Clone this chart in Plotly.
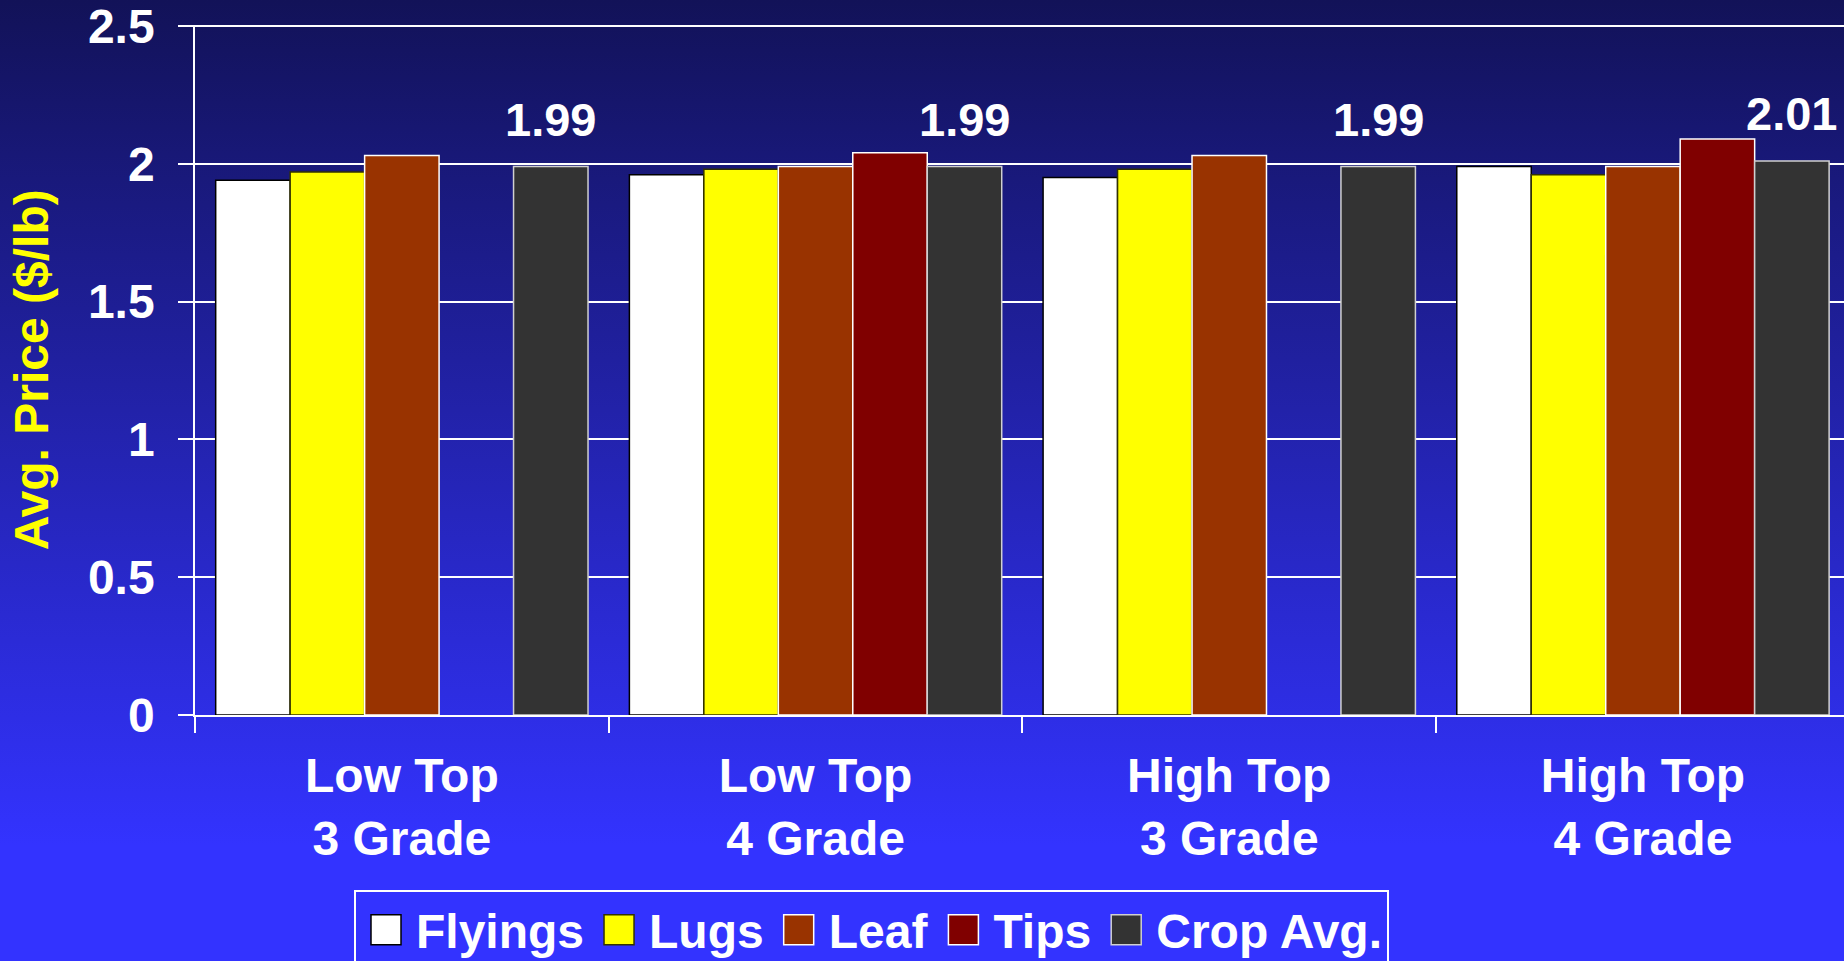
import base64
import plotly.graph_objects as go

# ---- data ----
categories = ["Low Top<br>3 Grade", "Low Top<br>4 Grade", "High Top<br>3 Grade", "High Top<br>4 Grade"]
flyings = [1.94, 1.96, 1.95, 1.99]
lugs = [1.97, 1.98, 1.98, 1.96]
leaf = [2.03, 1.99, 2.03, 1.99]
tips = [None, 2.04, None, 2.09]
crop_avg = [1.99, 1.99, 1.99, 2.01]
series_names = ["Flyings", "Lugs", "Leaf", "Tips", "Crop Avg."]
y_tickvals = [0, 0.5, 1, 1.5, 2, 2.5]
y_ticktext = ["0", "0.5", "1", "1.5", "2", "2.5"]

# ---- styles ----
W, H = 1844, 961
FONT = "Arial, 'Liberation Sans', sans-serif"
FS = 48
FS_LABEL = 47
fills = ["#FFFFFF", "#FFFF00", "#993300", "#800000", "#333333"]
lines = ["#000000", "#333300", "#FFFFFF", "#FFFFFF", "#D0D0D0"]
values = [flyings, lugs, leaf, tips, crop_avg]
BARGAP = 0.1
Y_MAX = 2.505

fig = go.Figure()
for name, vals, fc, lc in zip(series_names, values, fills, lines):
    fig.add_trace(go.Bar(
        name=name, x=categories, y=vals,
        marker=dict(color=fc, line=dict(color=lc, width=1.5)),
    ))

# value labels over the Crop Avg. bars
n = len(series_names)
bar_w = (1 - BARGAP) / n
offset = (n - 1 - (n - 1) / 2) * bar_w
for i, v in enumerate(crop_avg):
    fig.add_annotation(
        x=i + offset, y=v, xref="x", yref="y",
        text=f"{v:.2f}", showarrow=False, yanchor="bottom", yshift=19,
        font=dict(family=FONT, size=FS_LABEL, color="white", weight="bold"),
    )

# gradient background
svg = (
    '<svg xmlns="http://www.w3.org/2000/svg" width="100" height="100" viewBox="0 0 100 100" '
    'preserveAspectRatio="none"><defs><linearGradient id="g" x1="0" y1="0" x2="0" y2="1">'
    '<stop offset="0" stop-color="#121258"/><stop offset="0.88" stop-color="#3333FF"/>'
    '<stop offset="1" stop-color="#3333FF"/></linearGradient></defs>'
    '<rect x="0" y="0" width="100" height="100" fill="url(#g)"/></svg>'
)
src = "data:image/svg+xml;base64," + base64.b64encode(svg.encode()).decode()

x_left, x_right = 195, 1844
y_bottom = 715
y_25 = 26  # pixel of the 2.5 gridline
y_top = y_bottom - (y_bottom - y_25) * Y_MAX / 2.5
cat_w = 413.7

fig.update_layout(
    width=W, height=H, autosize=False,
    margin=dict(l=0, r=0, t=0, b=0, pad=0, autoexpand=False),
    paper_bgcolor="#3333FF", plot_bgcolor="rgba(0,0,0,0)",
    font=dict(family=FONT, size=FS, color="white", weight="bold"),
    barmode="group", bargap=BARGAP, bargroupgap=0,
    images=[dict(source=src, xref="paper", yref="paper", x=0, y=1, sizex=1, sizey=1,
                 xanchor="left", yanchor="top", sizing="stretch", layer="below")],
    xaxis=dict(
        domain=[x_left / W, 1],
        range=[-0.5, -0.5 + (x_right - x_left) / cat_w],
        showline=True, linecolor="white", linewidth=1.5,
        ticks="outside", tickson="boundaries", ticklen=16, tickwidth=1.5, tickcolor="white",
        showgrid=False, ticklabelstandoff=18,
        tickfont=dict(family=FONT, size=FS, color="white", weight="bold"),
    ),
    yaxis=dict(
        domain=[1 - y_bottom / H, 1 - y_top / H],
        range=[0, Y_MAX], tickvals=y_tickvals, ticktext=y_ticktext,
        showline=True, linecolor="white", linewidth=1.5,
        ticks="outside", ticklen=15, tickwidth=1.5, tickcolor="white",
        showgrid=True, gridcolor="white", gridwidth=1.5, zeroline=False,
        ticklabelstandoff=14, ticklabeloverflow="allow",
        tickfont=dict(family=FONT, size=FS, color="white", weight="bold"),
        title=dict(text="Avg. Price ($/lb)", standoff=24,
                   font=dict(family=FONT, size=FS, color="#FFFF00", weight="bold")),
    ),
    showlegend=True,
    legend=dict(
        orientation="h", x=354 / W, y=1 - 890 / H, xanchor="left", yanchor="top",
        bordercolor="white", borderwidth=2, bgcolor="rgba(0,0,0,0)",
        font=dict(family=FONT, size=FS, color="white", weight="bold"),
        itemwidth=50, traceorder="normal",
    ),
)

post = """
document.documentElement.style.margin = '0';
document.body.style.margin = '0';
document.body.style.padding = '0';
var gd = document.getElementById('{plot_id}');
function fixLegend(){
  var ps = gd.querySelectorAll('g.legendpoints path');
  ps.forEach(function(p){
    var d = p.getAttribute('d') || '';
    if (d.replace(/\\s/g,'') === 'M6,6H-6V-6H6Z') { p.setAttribute('d', 'M15,15H-15V-15H15Z'); }
  });
}
fixLegend();
if (gd.on) { gd.on('plotly_afterplot', fixLegend); }
var mo = new MutationObserver(function(){ fixLegend(); });
mo.observe(gd, {subtree: true, childList: true, attributes: true, attributeFilter: ['d']});
setTimeout(fixLegend, 20); setTimeout(fixLegend, 200);
"""

fig.write_html("out.html", post_script=post, config={"displayModeBar": False})
